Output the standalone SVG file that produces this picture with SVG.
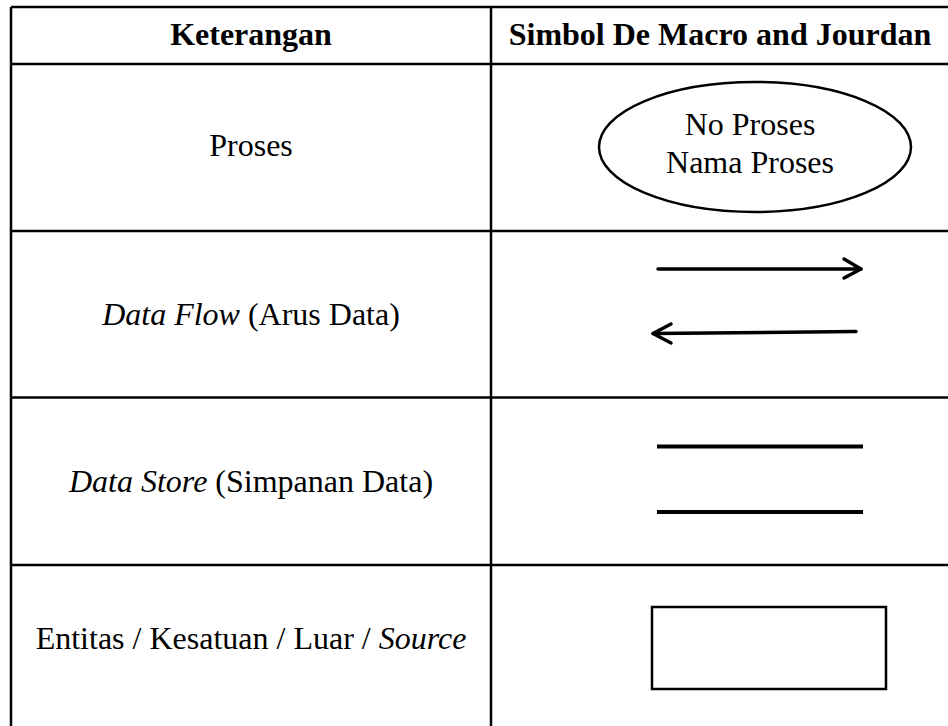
<svg xmlns="http://www.w3.org/2000/svg" width="948" height="726" viewBox="0 0 948 726">
  <style>
    .grid { stroke: #000; stroke-width: 2.5; fill: none; }
    .txt { font-family: "Liberation Serif", "Times New Roman", serif; font-size: 32px; fill: #000; text-anchor: middle; }
    .head { font-weight: bold; }
    .sym { stroke: #000; fill: none; }
  </style>
  <rect width="948" height="726" fill="#fff"/>

  <!-- table grid -->
  <g id="table-grid" class="grid">
    <line x1="11" y1="7" x2="950" y2="7"/>
    <line x1="11" y1="7" x2="11" y2="726"/>
    <line x1="491" y1="7" x2="491" y2="726"/>
    <line x1="11" y1="64" x2="950" y2="64"/>
    <line x1="11" y1="231" x2="950" y2="231"/>
    <line x1="11" y1="397.5" x2="950" y2="397.5"/>
    <line x1="11" y1="565" x2="950" y2="565"/>
  </g>

  <!-- header -->
  <g id="header">
    <text class="txt head" x="251" y="45">Keterangan</text>
    <text class="txt head" x="720" y="45">Simbol De Macro and Jourdan</text>
  </g>

  <!-- row: process -->
  <g id="row-proses">
    <text class="txt" x="251" y="156">Proses</text>
    <ellipse class="sym" cx="755" cy="147" rx="156" ry="65" stroke-width="2.5"/>
    <text class="txt" x="750" y="135">No Proses</text>
    <text class="txt" x="750" y="173">Nama Proses</text>
  </g>

  <!-- row: data flow -->
  <g id="row-data-flow">
    <text class="txt" x="251" y="325"><tspan font-style="italic">Data Flow</tspan> (Arus Data)</text>
    <g class="sym" stroke-width="3.5" stroke-linecap="round" stroke-linejoin="round">
      <line x1="658" y1="269" x2="861" y2="269"/>
      <polyline points="844,259 861,269 844,278"/>
      <line x1="856" y1="331.5" x2="653" y2="333.5"/>
      <polyline points="671,324 653,333.5 671,343"/>
    </g>
  </g>

  <!-- row: data store -->
  <g id="row-data-store">
    <text class="txt" x="251" y="492"><tspan font-style="italic">Data Store</tspan> (Simpanan Data)</text>
    <g class="sym" stroke-width="4">
      <line x1="657" y1="446.5" x2="863" y2="446.5"/>
      <line x1="657" y1="512" x2="863" y2="512"/>
    </g>
  </g>

  <!-- row: external entity -->
  <g id="row-entitas">
    <text class="txt" x="251" y="649">Entitas / Kesatuan / Luar / <tspan font-style="italic">Source</tspan></text>
    <rect class="sym" x="652" y="607" width="234" height="82" stroke-width="2.5"/>
  </g>
</svg>
